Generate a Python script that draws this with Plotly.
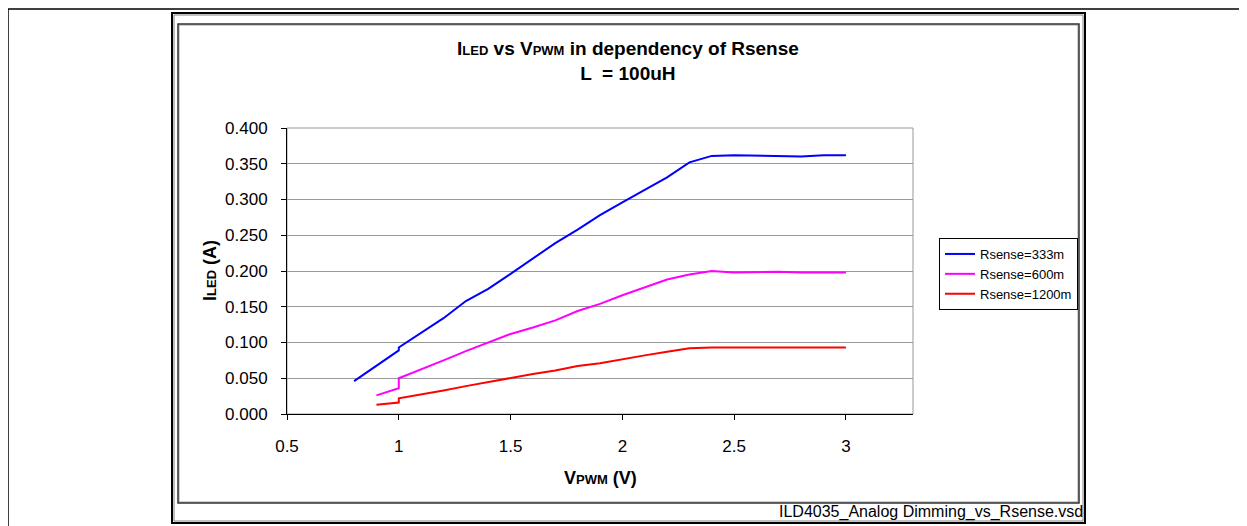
"""
ILED vs VPWM in dependency of Rsense (L = 100uH)
"""
import plotly.graph_objects as go

# --- data -------------------------------------------------------------
v_333 = [0.8, 0.9, 1.0, 1.0, 1.1, 1.2, 1.3, 1.4, 1.5, 1.6, 1.7, 1.8, 1.9,
         2.0, 2.1, 2.2, 2.3, 2.4, 2.5, 2.6, 2.7, 2.8, 2.9, 3.0]
i_333 = [0.046, 0.068, 0.089, 0.093, 0.113, 0.134, 0.158, 0.175, 0.196, 0.217,
         0.239, 0.258, 0.278, 0.296, 0.313, 0.331, 0.352, 0.361, 0.362, 0.361,
         0.360, 0.360, 0.362, 0.362]

v_600 = [0.9, 1.0, 1.0, 1.1, 1.2, 1.3, 1.4, 1.5, 1.6, 1.7, 1.8, 1.9,
         2.0, 2.1, 2.2, 2.3, 2.4, 2.5, 2.6, 2.7, 2.8, 2.9, 3.0]
i_600 = [0.026, 0.036, 0.050, 0.062, 0.075, 0.088, 0.100, 0.112, 0.121, 0.131,
         0.144, 0.154, 0.166, 0.177, 0.188, 0.195, 0.200, 0.198, 0.199, 0.199,
         0.198, 0.198, 0.198]

v_1200 = [0.9, 1.0, 1.0, 1.1, 1.2, 1.3, 1.4, 1.5, 1.6, 1.7, 1.8, 1.9,
          2.0, 2.1, 2.2, 2.3, 2.4, 2.5, 2.6, 2.7, 2.8, 2.9, 3.0]
i_1200 = [0.013, 0.016, 0.022, 0.027, 0.033, 0.039, 0.045, 0.050, 0.056, 0.061,
          0.067, 0.071, 0.077, 0.082, 0.087, 0.092, 0.093, 0.093, 0.094, 0.093,
          0.093, 0.093, 0.093]

series = [
    ("Rsense=333m", v_333, i_333, "#0000FF"),
    ("Rsense=600m", v_600, i_600, "#FF00FF"),
    ("Rsense=1200m", v_1200, i_1200, "#FF0000"),
]

FONT = "Arial, Liberation Sans, sans-serif"
OFF = 8                           # page body margin
W, H = 1247 - OFF, 526 - OFF
L, R, T, B = 287, 913, 128, 414   # plot area in screen pixels


def px(x):
    return (x - L) / (R - L)


def py(y):
    return (B - y) / (B - T)


def rect(x0, y0, x1, y1, color, width):
    return dict(type="rect", xref="paper", yref="paper",
                x0=px(x0), x1=px(x1), y0=py(y0), y1=py(y1),
                line=dict(color=color, width=width), layer="above")


def hline(x0, x1, y, color, width):
    return dict(type="line", xref="paper", yref="paper",
                x0=px(x0), x1=px(x1), y0=py(y), y1=py(y),
                line=dict(color=color, width=width))


def vline(x, y0, y1, color, width):
    return dict(type="line", xref="paper", yref="paper",
                x0=px(x), x1=px(x), y0=py(y0), y1=py(y1),
                line=dict(color=color, width=width))


fig = go.Figure()
for name, x, y, c in series:
    fig.add_trace(go.Scatter(x=x, y=y, name=name, mode="lines",
                             line=dict(color=c, width=2)))

small = "<span style='font-size:13px'>{}</span>"

shapes = [
    # page border
    hline(8, 1245, 9, "black", 1.5),
    vline(8, 9, 530, "black", 1.5),
    # outer frame
    rect(174, 15, 1083, 521, "#808080", 1),
    rect(172, 13, 1085, 523, "black", 2),
    # inner frame
    rect(179, 25, 1078, 502, "#a0a0a0", 1),
    rect(178, 24, 1079, 503, "#303030", 1.5),
    # plot area border (top / right are gray)
    dict(type="rect", xref="paper", yref="paper", x0=0, x1=1, y0=0, y1=1,
         line=dict(color="#999999", width=1), layer="below"),
]

annotations = [
    dict(text="<b>I" + small.format("LED") + " vs V" + small.format("PWM")
         + " in dependency of Rsense<br>L  = 100uH</b>",
         x=px(628), y=py(61), xref="paper", yref="paper",
         showarrow=False, xanchor="center", yanchor="middle",
         font=dict(family=FONT, size=19, color="black")),
    dict(text="<b>I" + small.format("LED") + " (A)</b>",
         x=px(210), y=py(271), xref="paper", yref="paper", textangle=-90,
         showarrow=False, xanchor="center", yanchor="middle",
         font=dict(family=FONT, size=18, color="black")),
    dict(text="<b>V" + small.format("PWM") + " (V)</b>",
         x=px(600), y=py(478), xref="paper", yref="paper",
         showarrow=False, xanchor="center", yanchor="middle",
         font=dict(family=FONT, size=18, color="black")),
    dict(text="ILD4035_Analog Dimming_vs_Rsense.vsd",
         x=px(1085), y=py(512), xref="paper", yref="paper",
         showarrow=False, xanchor="right", yanchor="middle",
         font=dict(family=FONT, size=16, color="black")),
]

fig.update_layout(
    width=W, height=H,
    margin=dict(l=L - OFF, r=W - (R - OFF), t=T - OFF, b=H - (B - OFF), pad=0),
    paper_bgcolor="white", plot_bgcolor="white",
    font=dict(family=FONT, size=17, color="black"),
    showlegend=True,
    legend=dict(x=px(939), y=py(238), xanchor="left", yanchor="top",
                bordercolor="black", borderwidth=1, bgcolor="white",
                font=dict(family=FONT, size=13, color="black"),
                itemwidth=30, tracegroupgap=0),
    shapes=shapes,
    annotations=annotations,
)
fig.update_xaxes(range=[0.5, 3.3], tick0=0.5, dtick=0.5, showgrid=False,
                 zeroline=False, showline=True, linecolor="black", linewidth=1,
                 ticks="outside", ticklen=5, tickcolor="black",
                 tickfont=dict(family=FONT, size=17), ticklabelstandoff=12)
fig.update_yaxes(range=[0, 0.4], dtick=0.05, tickformat=".3f",
                 showgrid=True, gridcolor="#999999", gridwidth=1,
                 zeroline=False, showline=True, linecolor="black", linewidth=1,
                 ticks="outside", ticklen=5, tickcolor="black",
                 tickfont=dict(family=FONT, size=17), ticklabelstandoff=10)

fig.write_html("out.html")
